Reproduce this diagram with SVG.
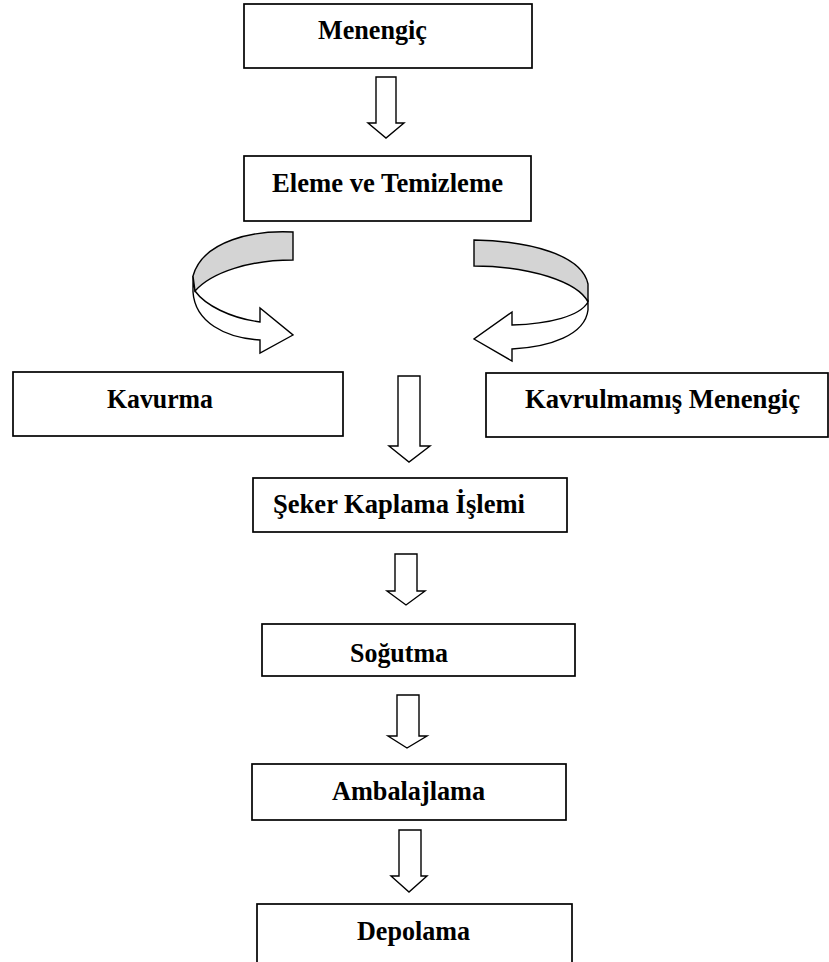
<svg xmlns="http://www.w3.org/2000/svg" width="829" height="962" viewBox="0 0 829 962">
<style>
.box{fill:#fff;stroke:#000;stroke-width:1.7}
.lbl{font-family:"Liberation Serif","Times New Roman",serif;font-weight:bold;font-size:27px;fill:#000;text-anchor:middle}
.arr{fill:#fff;stroke:#000;stroke-width:1.4;stroke-linejoin:miter}
.band{fill:#d4d4d4;stroke:#000;stroke-width:1.4}
</style>
<rect width="829" height="962" fill="#fff"/>
<g id="connectors">
<path class="arr" d="M376,77 H396 V123 H404 L386,138 L368,123 H376 Z"/>
<path class="arr" d="M398,376 H420 V446 H430 L409,462 L389,446 H398 Z"/>
<path class="arr" d="M395,554 H417 V591 H425 L406,605 L387,591 H395 Z"/>
<path class="arr" d="M397,695 H419 V736 H427 L407,748 L388,736 H397 Z"/>
<path class="arr" d="M399,830 H421 V876 H427 L409,892 L391,876 H399 Z"/>
<g id="curve-left">
<path class="arr" d="M195,291 C205,305 230,318 260,322 L260,308 L293,335 L260,353 L260,340 C225,338 195,322 193,292 L193,276 Z"/>
<path class="band" d="M293,232 C255,230 203,240 193,276 L195,291 C212,272 250,260 293,260 Z"/>
</g>
<g id="curve-right">
<path class="arr" d="M588,302 C580,316 550,324 512,325 L512,312 L474,339 L512,361 L512,349 C550,347 585,335 588,310 Z"/>
<path class="band" d="M474,240 C530,241 582,255 588,284 L588,302 C578,282 530,266 474,266 Z"/>
</g>
</g>
<g id="n-menengic"><rect class="box" x="244" y="4" width="288" height="64"/><text class="lbl" x="372.5" y="39" textLength="109" lengthAdjust="spacingAndGlyphs">Menengiç</text></g>
<g id="n-eleme"><rect class="box" x="244" y="156" width="287" height="65"/><text class="lbl" x="387.5" y="192" textLength="231" lengthAdjust="spacingAndGlyphs">Eleme ve Temizleme</text></g>
<g id="n-kavurma"><rect class="box" x="13" y="372" width="330" height="64"/><text class="lbl" x="160" y="408" textLength="106" lengthAdjust="spacingAndGlyphs">Kavurma</text></g>
<g id="n-kavrulmamis"><rect class="box" x="486" y="373" width="342" height="64"/><text class="lbl" x="662.5" y="408" textLength="275" lengthAdjust="spacingAndGlyphs">Kavrulmamış Menengiç</text></g>
<g id="n-seker"><rect class="box" x="253" y="478" width="314" height="54"/><text class="lbl" x="399" y="513" textLength="252" lengthAdjust="spacingAndGlyphs">Şeker Kaplama İşlemi</text></g>
<g id="n-sogutma"><rect class="box" x="262" y="624" width="313" height="52"/><text class="lbl" x="399" y="662" textLength="98" lengthAdjust="spacingAndGlyphs">Soğutma</text></g>
<g id="n-ambalajlama"><rect class="box" x="252" y="764" width="314" height="56"/><text class="lbl" x="408.5" y="800" textLength="153" lengthAdjust="spacingAndGlyphs">Ambalajlama</text></g>
<g id="n-depolama"><rect class="box" x="257" y="904" width="315" height="70"/><text class="lbl" x="413.5" y="940" textLength="113" lengthAdjust="spacingAndGlyphs">Depolama</text></g>
</svg>
